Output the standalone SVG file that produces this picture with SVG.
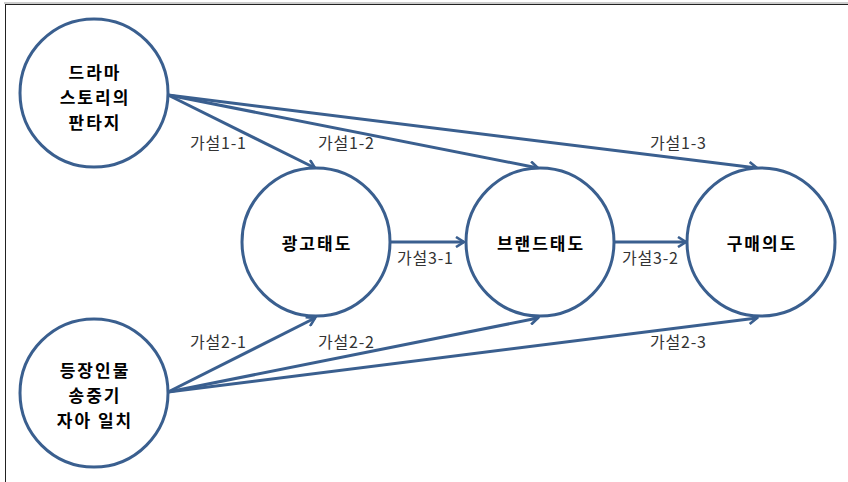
<svg xmlns="http://www.w3.org/2000/svg" width="848" height="482" viewBox="0 0 848 482">
<defs>
<marker id="ah" viewBox="0 0 12 12" refX="10" refY="6" markerWidth="12" markerHeight="12" markerUnits="userSpaceOnUse" orient="auto">
<polyline points="2,1 10,6 2,11" fill="none" stroke="#3A5F8F" stroke-width="2.6"/>
</marker>
<style>
.n{fill:#fff;stroke:#3A5F8F;stroke-width:3}
.t{font-family:"Noto Sans CJK KR","Noto Sans",sans-serif;font-size:17px;font-weight:bold;fill:#000;text-anchor:middle;letter-spacing:2px}
.l{font-family:"Noto Sans CJK KR","Noto Sans",sans-serif;font-size:16px;fill:#333;letter-spacing:0.8px}
.e{fill:none;stroke:#3A5F8F;stroke-width:3;marker-end:url(#ah)}
</style>
</defs>
<rect width="848" height="482" fill="#fff"/>
<line x1="4" y1="3" x2="848" y2="3" stroke="#999" stroke-width="1"/>
<line x1="5" y1="4.5" x2="848" y2="4.5" stroke="#222" stroke-width="1"/>
<line x1="5.5" y1="4" x2="5.5" y2="482" stroke="#222" stroke-width="1"/>
<g id="connectors">
<line class="e" x1="168" y1="95" x2="315" y2="168"/>
<line class="e" x1="168" y1="95" x2="538" y2="168"/>
<line class="e" x1="168" y1="95" x2="757" y2="168"/>
<line class="e" x1="168" y1="392" x2="315" y2="318"/>
<line class="e" x1="168" y1="392" x2="538" y2="318"/>
<line class="e" x1="168" y1="392" x2="757" y2="318"/>
<line class="e" x1="391" y1="242" x2="464" y2="242"/>
<line class="e" x1="615" y1="242" x2="686" y2="242"/>
<text class="l" x="190" y="149">가설1-1</text>
<text class="l" x="318" y="149">가설1-2</text>
<text class="l" x="650" y="149">가설1-3</text>
<text class="l" x="397" y="264">가설3-1</text>
<text class="l" x="622" y="264">가설3-2</text>
<text class="l" x="190" y="348">가설2-1</text>
<text class="l" x="318" y="348">가설2-2</text>
<text class="l" x="650" y="348">가설2-3</text>
</g>
<g id="n1">
<circle class="n" cx="94" cy="93" r="74"/>
<text class="t" x="95" y="79">드라마</text>
<text class="t" x="95" y="104">스토리의</text>
<text class="t" x="95" y="129">판타지</text>
</g>
<g id="n2">
<circle class="n" cx="94" cy="393" r="74"/>
<text class="t" x="95" y="377">등장인물</text>
<text class="t" x="95" y="402">송중기</text>
<text class="t" x="95" y="427">자아 일치</text>
</g>
<g id="n3">
<circle class="n" cx="316" cy="242" r="74"/>
<text class="t" x="317" y="250">광고태도</text>
</g>
<g id="n4">
<circle class="n" cx="540" cy="242" r="74"/>
<text class="t" x="541" y="250">브랜드태도</text>
</g>
<g id="n5">
<circle class="n" cx="761" cy="242" r="74"/>
<text class="t" x="762" y="250">구매의도</text>
</g>
</svg>
